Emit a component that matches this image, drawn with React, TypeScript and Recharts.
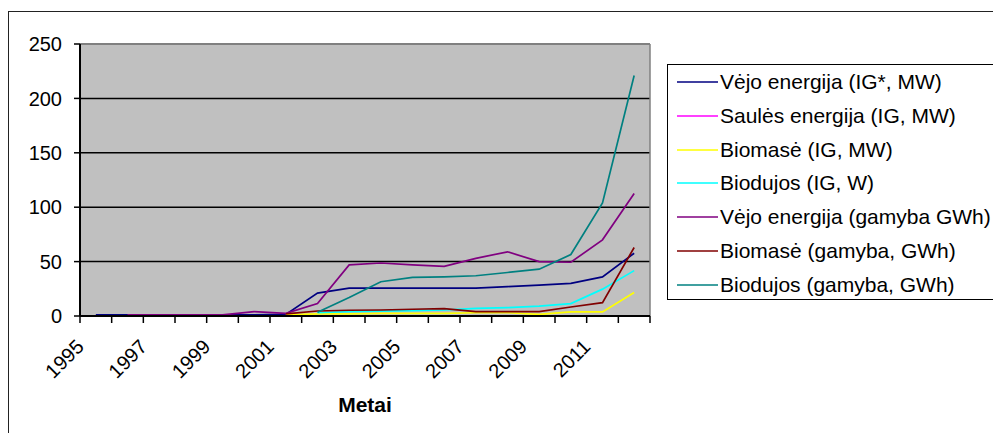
import { LineChart, Line, XAxis, YAxis, CartesianGrid, ReferenceLine } from 'recharts';

const FONT = '"Liberation Sans", Arial, sans-serif';

// Metai
const years = [1995, 1996, 1997, 1998, 1999, 2000, 2001, 2002, 2003, 2004, 2005, 2006, 2007, 2008, 2009, 2010, 2011, 2012];

// installed capacity
const windCap = [1, 1, 1, 1, 1, 1, 1.5, 21, 25.6, 25.6, 25.6, 25.6, 25.6, 27, 28.4, 30, 36, 57.7];
const solarCap = [null, null, null, null, null, null, null, null, null, null, null, null, null, null, 0.1, 0.1, 0.1, null];
const biomassCap = [null, null, null, null, null, null, 1, 2, 2, 2.5, 2.5, 2.5, 3, 3, 1.5, 3.7, 3.7, 21.6];
const biogasCap = [null, null, null, null, null, null, null, 3, 4, 4.5, 5, 5.5, 7, 7.7, 9, 11.4, 24.7, 41.7];

// production
const windGen = [null, 1, 1, 1, 1, 4, 2.5, 11.4, 47, 48.7, 47, 45.7, 53, 59, 50, 49.4, 70, 112.6];
const biomassGen = [null, null, null, null, null, null, 2, 4.6, 5.3, 5.5, 6.2, 6.8, 4, 4, 4, 8.3, 12.3, 63];
const biogasGen = [null, null, null, null, null, null, null, 3.4, 17, 31.5, 35.5, 36, 37, 40, 43, 56.5, 104, 221];

const yTicks = [0, 50, 100, 150, 200, 250];

const series = [
  { key: 'windCap', name: 'Vėjo energija (IG*, MW)', color: '#000080', values: windCap },
  { key: 'solarCap', name: 'Saulės energija (IG, MW)', color: '#ff00ff', values: solarCap },
  { key: 'biomassCap', name: 'Biomasė (IG, MW)', color: '#ffff00', values: biomassCap },
  { key: 'biogasCap', name: 'Biodujos (IG, W)', color: '#00ffff', values: biogasCap },
  { key: 'windGen', name: 'Vėjo energija (gamyba GWh)', color: '#800080', values: windGen },
  { key: 'biomassGen', name: 'Biomasė (gamyba, GWh)', color: '#800000', values: biomassGen },
  { key: 'biogasGen', name: 'Biodujos (gamyba, GWh)', color: '#008080', values: biogasGen },
];

const data = years.map((year, i) => {
  const row: Record<string, number | null> = { year };
  series.forEach((s) => {
    row[s.key] = s.values[i];
  });
  return row;
});

// tick marks sit between the years, labels on every other year
const xTicks = [...years.map((y) => y - 0.5), years[years.length - 1] + 0.5];

function YearTick({ x, y, payload }: any) {
  const yr = payload.value + 0.5;
  if (yr % 2 === 0 || yr > years[years.length - 1]) return <g />;
  return (
    <text
      transform={`translate(${x + 5},${y + 23}) rotate(-45)`}
      textAnchor="end"
      fontSize={20}
      fontFamily={FONT}
      fill="#000"
    >
      {yr}
    </text>
  );
}

export default function App() {
  return (
    <div style={{ position: 'absolute', left: 0, top: 0, width: 993, height: 433, overflow: 'hidden', background: '#fff' }}>
      <div
        style={{
          position: 'absolute',
          left: 8,
          top: 11,
          width: 1000,
          height: 440,
          border: '1px solid #222',
        }}
      />
      <LineChart
        width={993}
        height={433}
        data={data}
        margin={{ top: 44, right: 343, bottom: 57, left: 0 }}
        style={{ position: 'absolute', left: 0, top: 0 }}
      >
        <CartesianGrid
          vertical={false}
          stroke="#000"
          strokeWidth={1.5}
          fill="#c0c0c0"
          fillOpacity={1}
        />
        <XAxis
          type="number"
          dataKey="year"
          domain={[xTicks[0], xTicks[xTicks.length - 1]]}
          ticks={xTicks}
          interval={0}
          height={60}
          tickSize={7}
          tick={<YearTick />}
          axisLine={{ stroke: '#000', strokeWidth: 2 }}
          tickLine={{ stroke: '#000', strokeWidth: 1.5 }}
        />
        <YAxis
          domain={[0, 250]}
          ticks={yTicks}
          width={80}
          tickSize={6}
          tickMargin={12}
          interval={0}
          tick={{ fill: '#000', fontSize: 20, fontFamily: FONT }}
          axisLine={{ stroke: '#000', strokeWidth: 2 }}
          tickLine={{ stroke: '#000', strokeWidth: 1.5 }}
        />
        <ReferenceLine y={250} stroke="#808080" strokeWidth={2} />
        <ReferenceLine x={xTicks[xTicks.length - 1]} stroke="#808080" strokeWidth={1.5} />
        {series.map((s) => (
          <Line
            key={s.key}
            type="linear"
            dataKey={s.key}
            name={s.name}
            stroke={s.color}
            strokeWidth={1.7}
            dot={false}
            activeDot={false}
            isAnimationActive={false}
          />
        ))}
      </LineChart>
      <div
        style={{
          position: 'absolute',
          left: 337,
          top: 394,
          width: 56,
          textAlign: 'center',
          fontFamily: FONT,
          fontWeight: 'bold',
          fontSize: 21,
          lineHeight: '21px',
        }}
      >
        Metai
      </div>
      <div
        style={{
          position: 'absolute',
          left: 667,
          top: 64,
          width: 340,
          height: 234,
          border: '1px solid #000',
          background: '#fff',
          fontFamily: FONT,
          fontSize: 21,
        }}
      >
        {series.map((s, i) => (
          <div
            key={s.key}
            style={{
              position: 'absolute',
              left: 9,
              top: 2 + i * 33.8,
              height: 30,
              display: 'flex',
              alignItems: 'center',
              whiteSpace: 'nowrap',
            }}
          >
            <svg width={41} height={4} style={{ marginRight: 2, flexShrink: 0 }}>
              <line x1={0} y1={2} x2={41} y2={2} stroke={s.color} strokeWidth={1.7} />
            </svg>
            <span>{s.name}</span>
          </div>
        ))}
      </div>
    </div>
  );
}
